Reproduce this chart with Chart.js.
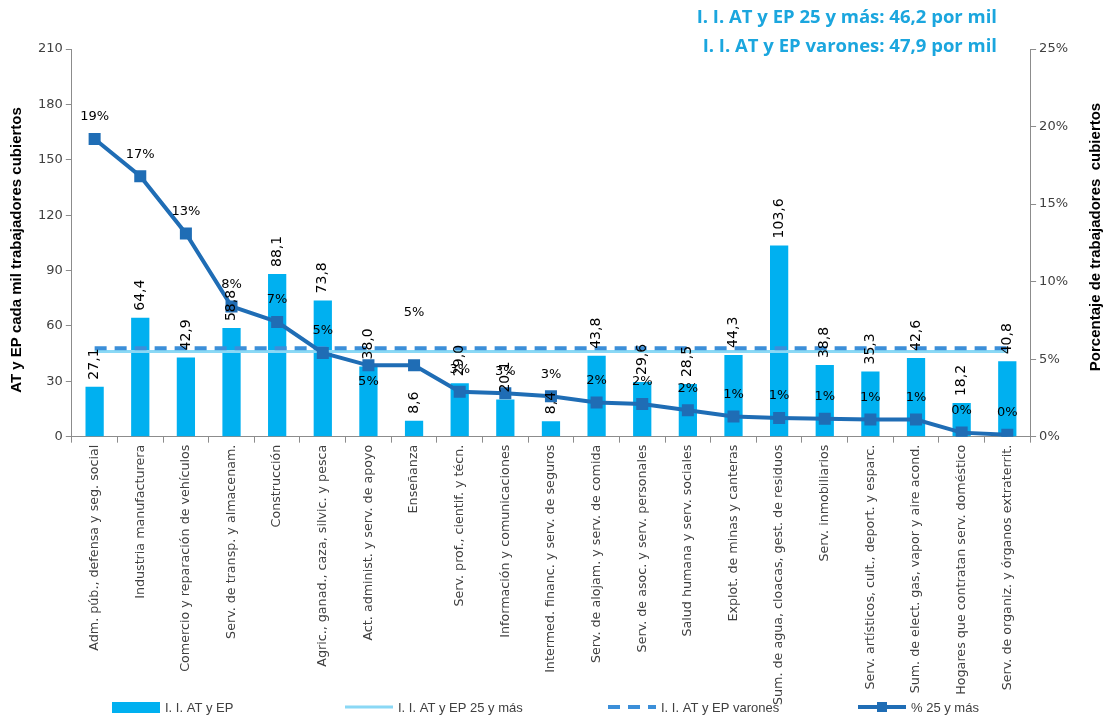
<!DOCTYPE html>
<html>
<head>
<meta charset="utf-8">
<script src="https://cdn.jsdelivr.net/npm/chart.js@4.4.0/dist/chart.umd.min.js"></script>
<style>
  body { margin: 0; background: #fff; }
  #wrap { width: 1107px; height: 720px; position: relative; }
</style>
</head>
<body>
<div id="wrap"><canvas id="grafico"></canvas></div>
<script>
// Datos
const sectores = [
  "Adm. púb., defensa y seg. social",
  "Industria manufacturera",
  "Comercio y reparación de vehículos",
  "Serv. de transp. y almacenam.",
  "Construcción",
  "Agric., ganad., caza, silvic. y pesca",
  "Act. administ. y serv. de apoyo",
  "Enseñanza",
  "Serv. prof., cientif. y técn.",
  "Información y comunicaciones",
  "Intermed. financ. y serv. de seguros",
  "Serv. de alojam. y serv. de comida",
  "Serv. de asoc. y serv. personales",
  "Salud humana y serv. sociales",
  "Explot. de minas y canteras",
  "Sum. de agua, cloacas, gest. de residuos",
  "Serv. inmobiliarios",
  "Serv. artísticos, cult., deport. y esparc.",
  "Sum. de elect. gas, vapor y aire acond.",
  "Hogares que contratan serv. doméstico",
  "Serv. de organiz. y órganos extraterrit."
];
const indice = [27.1, 64.4, 42.9, 58.8, 88.1, 73.8, 38.0, 8.6, 29.0, 20.1, 8.4,
                43.8, 29.6, 28.5, 44.3, 103.6, 38.8, 35.3, 42.6, 18.2, 40.8];
const porcentaje25 = [19.2, 16.8, 13.1, 8.4, 7.4, 5.4, 4.6, 4.6, 2.9, 2.8, 2.6,
                      2.2, 2.1, 1.7, 1.3, 1.2, 1.15, 1.1, 1.1, 0.26, 0.13];
const indice25 = 46.2;      // I. I. AT y EP 25 y más
const indiceVarones = 47.9; // I. I. AT y EP varones
const ticksIzq = [0, 210, 30];
const ticksDer = [0, 25, 5];

const colores = {
  barra: '#00b0f0',
  linea25: '#8ad8f5',
  varones: '#3b8fd9',
  pct: '#1f6db5',
  texto: '#404040',
  eje: '#8c8c8c',
  anot: '#1ba6de'
};

const fmt = v => v.toFixed(1).replace('.', ',');

// etiquetas de datos
const desplazPct = { 6: 16, 7: -53 };
const etiquetas = {
  id: 'etiquetas',
  afterDatasetsDraw(chart) {
    const ctx = chart.ctx;
    ctx.save();
    ctx.fillStyle = '#000';
    ctx.font = '14px "DejaVu Sans"';
    chart.getDatasetMeta(0).data.forEach((bar, i) => {
      ctx.save();
      ctx.translate(bar.x, bar.y - 7);
      ctx.rotate(-Math.PI / 2);
      ctx.textAlign = 'left';
      ctx.textBaseline = 'middle';
      ctx.fillText(fmt(indice[i]), 0, 0);
      ctx.restore();
    });
    ctx.font = '13px "DejaVu Sans"';
    ctx.textAlign = 'center';
    ctx.textBaseline = 'middle';
    chart.getDatasetMeta(3).data.forEach((p, i) => {
      const dy = desplazPct[i] !== undefined ? desplazPct[i] : -22;
      ctx.fillText(Math.round(porcentaje25[i]) + '%', p.x, p.y + dy);
    });
    ctx.restore();
  }
};

// titulos de ejes, anotaciones y leyenda
const extras = {
  id: 'extras',
  afterDraw(chart) {
    const ctx = chart.ctx;
    ctx.save();
    ctx.fillStyle = '#000';
    ctx.textAlign = 'center';
    ctx.textBaseline = 'middle';
    ctx.font = 'bold 15px "Liberation Sans"';
    ctx.save();
    ctx.translate(17, 250);
    ctx.rotate(-Math.PI / 2);
    ctx.fillText('AT y EP cada mil trabajadores cubiertos', 0, 0);
    ctx.restore();
    ctx.font = 'bold 15px "Liberation Sans"';
    ctx.save();
    ctx.translate(1096, 237);
    ctx.rotate(-Math.PI / 2);
    ctx.fillText('Porcentaje de trabajadores  cubiertos', 0, 0);
    ctx.restore();

    // anotaciones arriba
    ctx.fillStyle = colores.anot;
    ctx.font = 'bold 18.5px "Open Sans"';
    ctx.textAlign = 'right';
    ctx.fillText('I. I. AT y EP 25 y más: 46,2 por mil', 997, 18);
    ctx.fillText('I. I. AT y EP varones: 47,9 por mil', 997, 47);

    // leyenda
    const y = 707;
    const xs = [112, 345, 608, 858];
    const ds = chart.data.datasets;
    ctx.font = '13px "Liberation Sans"';
    ctx.textAlign = 'left';
    xs.forEach((x, i) => {
      const d = ds[i];
      if (i === 0) {
        ctx.fillStyle = d.backgroundColor;
        ctx.fillRect(x, y - 5, 48, 11);
      } else {
        ctx.strokeStyle = d.borderColor;
        ctx.lineWidth = d.borderWidth;
        ctx.setLineDash(d.borderDash || []);
        ctx.beginPath();
        ctx.moveTo(x, y);
        ctx.lineTo(x + 48, y);
        ctx.stroke();
        ctx.setLineDash([]);
        if (i === 3) {
          ctx.fillStyle = d.borderColor;
          ctx.fillRect(x + 19, y - 5, 10, 10);
        }
      }
      ctx.fillStyle = colores.texto;
      ctx.fillText(d.label, x + 53, y + 1);
    });
    ctx.restore();
  }
};

const primero = sectores[0];
const ultimo = sectores[sectores.length - 1];

new Chart('grafico', {
  type: 'bar',
  data: {
    labels: sectores,
    datasets: [
      {
        label: 'I. I. AT y EP',
        data: indice,
        backgroundColor: colores.barra,
        barPercentage: 0.8,
        categoryPercentage: 0.5,
        yAxisID: 'y',
        order: 4
      },
      {
        type: 'line',
        label: 'I. I. AT y EP 25 y más',
        data: [{x: primero, y: indice25}, {x: ultimo, y: indice25}],
        borderColor: colores.linea25,
        borderWidth: 3,
        pointRadius: 0,
        yAxisID: 'y',
        order: 3
      },
      {
        type: 'line',
        label: 'I. I. AT y EP varones',
        data: [{x: primero, y: indiceVarones}, {x: ultimo, y: indiceVarones}],
        borderColor: colores.varones,
        borderWidth: 4,
        borderDash: [12, 8],
        pointRadius: 0,
        yAxisID: 'y',
        order: 2
      },
      {
        type: 'line',
        label: '% 25 y más',
        data: porcentaje25,
        borderColor: colores.pct,
        backgroundColor: colores.pct,
        borderWidth: 4,
        pointStyle: 'rect',
        pointRadius: 8.5,
        pointBorderWidth: 0,
        yAxisID: 'y1',
        order: 1
      }
    ]
  },
  options: {
    responsive: true,
    maintainAspectRatio: false,
    animation: false,
    layout: { padding: { top: 49, left: 35, right: 36, bottom: 13 } },
    plugins: {
      legend: { display: false },
      tooltip: { enabled: false }
    },
    scales: {
      x: {
        ticks: {
          autoSkip: false, maxRotation: 90, minRotation: 90,
          color: colores.texto, padding: 2,
          font: { family: 'DejaVu Sans', size: 12.7 }
        },
        grid: { drawOnChartArea: false, tickLength: 6, color: colores.eje, offset: true },
        border: { color: colores.eje }
      },
      y: {
        position: 'left',
        min: ticksIzq[0], max: ticksIzq[1],
        ticks: { stepSize: ticksIzq[2], color: colores.texto, font: { family: 'DejaVu Sans', size: 13 } },
        grid: { drawOnChartArea: false, tickLength: 6, color: colores.eje },
        border: { color: colores.eje }
      },
      y1: {
        position: 'right',
        min: ticksDer[0], max: ticksDer[1],
        ticks: { stepSize: ticksDer[2], color: colores.texto, callback: v => v + '%', font: { family: 'DejaVu Sans', size: 13 } },
        grid: { drawOnChartArea: false, tickLength: 6, color: colores.eje },
        border: { color: colores.eje }
      }
    }
  },
  plugins: [etiquetas, extras]
});
</script>
</body>
</html>
